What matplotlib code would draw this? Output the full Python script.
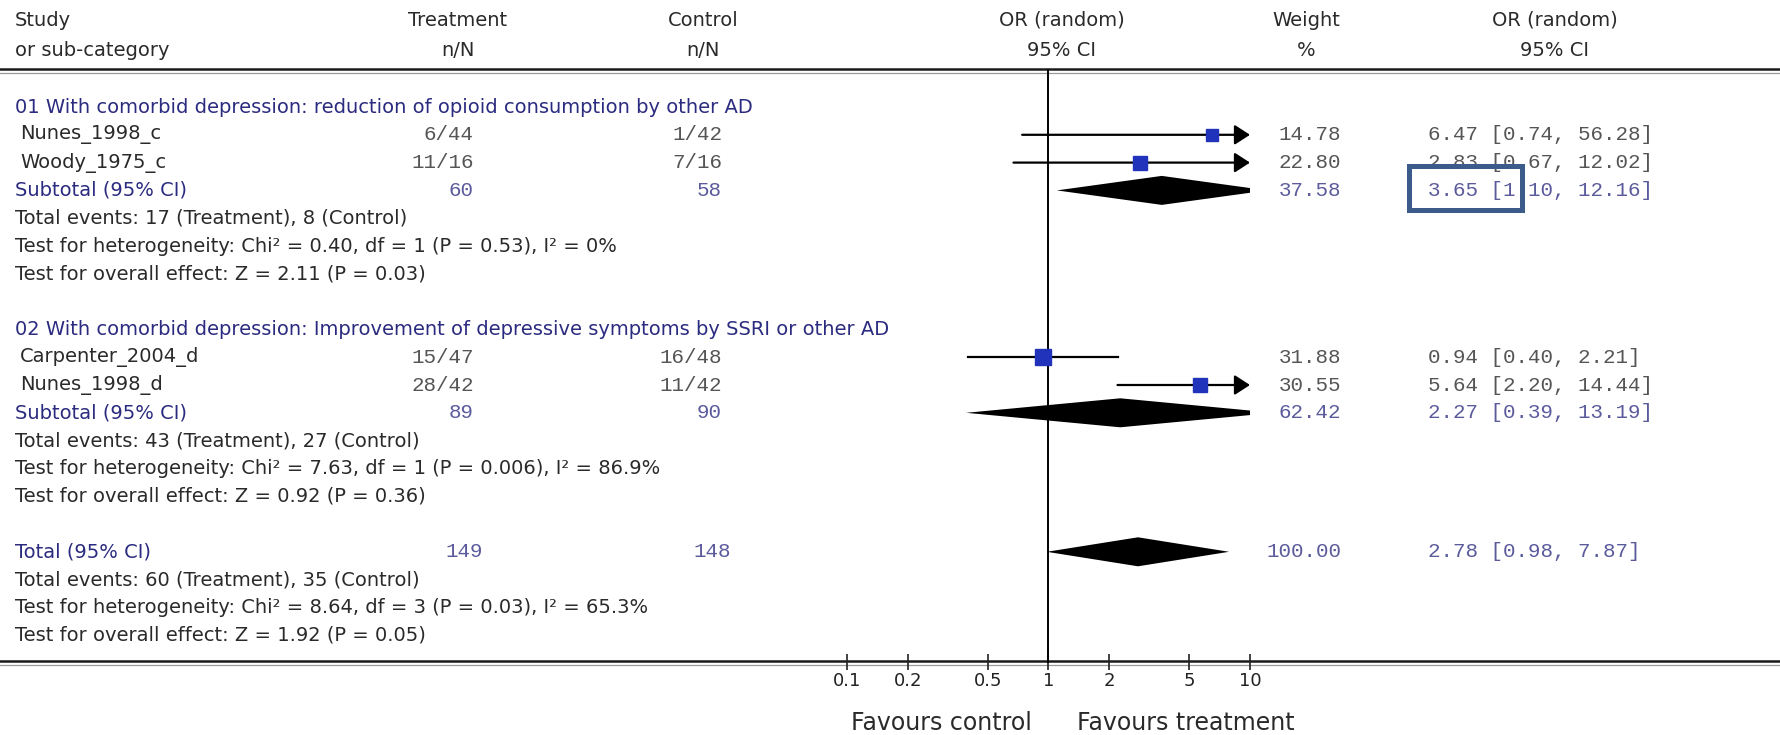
import matplotlib
matplotlib.use('Agg')
import matplotlib.pyplot as plt
from matplotlib.patches import Rectangle
from matplotlib.ticker import NullLocator

# ---- data ----
group_titles = ['01 With comorbid depression: reduction of opioid consumption by other AD',
                '02 With comorbid depression: Improvement of depressive symptoms by SSRI or other AD']
studies = ['Nunes_1998_c', 'Woody_1975_c', 'Carpenter_2004_d', 'Nunes_1998_d']
study_group = [0, 0, 1, 1]
treat_nN = ['6/44', '11/16', '15/47', '28/42']
ctrl_nN = ['1/42', '7/16', '16/48', '11/42']
weights = [14.78, 22.80, 31.88, 30.55]
or_est = [6.47, 2.83, 0.94, 5.64]
or_lo = [0.74, 0.67, 0.40, 2.20]
or_hi = [56.28, 12.02, 2.21, 14.44]

sub_treat_N = [60, 89]
sub_ctrl_N = [58, 90]
sub_weight = [37.58, 62.42]
sub_est = [3.65, 2.27]
sub_lo = [1.10, 0.39]
sub_hi = [12.16, 13.19]
sub_stats = [['Total events: 17 (Treatment), 8 (Control)',
              'Test for heterogeneity: Chi\u00b2 = 0.40, df = 1 (P = 0.53), I\u00b2 = 0%',
              'Test for overall effect: Z = 2.11 (P = 0.03)'],
             ['Total events: 43 (Treatment), 27 (Control)',
              'Test for heterogeneity: Chi\u00b2 = 7.63, df = 1 (P = 0.006), I\u00b2 = 86.9%',
              'Test for overall effect: Z = 0.92 (P = 0.36)']]

tot_treat_N = 149
tot_ctrl_N = 148
tot_weight = 100.00
tot_est, tot_lo, tot_hi = 2.78, 0.98, 7.87
tot_stats = ['Total events: 60 (Treatment), 35 (Control)',
             'Test for heterogeneity: Chi\u00b2 = 8.64, df = 3 (P = 0.03), I\u00b2 = 65.3%',
             'Test for overall effect: Z = 1.92 (P = 0.05)']

ticks = [0.1, 0.2, 0.5, 1, 2, 5, 10]
tick_labels = ['0.1', '0.2', '0.5', '1', '2', '5', '10']

# ---- look ----
W, H = 1781, 735
SANS = 'DejaVu Sans'
MONO = 'Liberation Mono'
navy = '#2b2b80'
dark = '#2a2a2a'
mono_grey = '#555555'
mono_blue = '#5b5b9c'
sq_blue = '#2233bb'
fs = 14
fs_mono = 15

def row_y(k):
    return 107 + 27.8 * k

fig = plt.figure(figsize=(W / 100, H / 100), dpi=100)
ax = fig.add_axes([0, 0, 1, 1])
ax.set_xlim(0, W)
ax.set_ylim(H, 0)
ax.axis('off')

# forest panel, log axis 0.1 .. 10
fx0, fx1 = 847, 1250
fa = fig.add_axes([fx0 / W, 0, (fx1 - fx0) / W, 1])
fa.set_xscale('log')
fa.set_xlim(0.1, 10)
fa.set_ylim(H, 0)
fa.patch.set_alpha(0)
fa.spines['bottom'].set_position(('data', 662))
for s in fa.spines.values():
    s.set_visible(False)
fa.set_yticks([])
fa.set_xticks(ticks)
fa.set_xticklabels(tick_labels)
fa.xaxis.set_minor_locator(NullLocator())
fa.tick_params(axis='x', direction='inout', length=11, width=1.2, pad=2,
               labelsize=13, colors='#222222')

# headers
hy1, hy2 = 20, 50
ax.text(15, hy1, 'Study', fontsize=fs, family=SANS, color=dark, va='center')
ax.text(15, hy2, 'or sub-category', fontsize=fs, family=SANS, color=dark, va='center')
for xc, t1, t2 in [(458, 'Treatment', 'n/N'), (703, 'Control', 'n/N'),
                   (1062, 'OR (random)', '95% CI'), (1306, 'Weight', '%'),
                   (1555, 'OR (random)', '95% CI')]:
    ax.text(xc, hy1, t1, fontsize=fs, family=SANS, color=dark, ha='center', va='center')
    ax.text(xc, hy2, t2, fontsize=fs, family=SANS, color=dark, ha='center', va='center')

# double rules
for yy in (69, 661):
    ax.plot([0, W], [yy, yy], color='#1a1a1a', lw=1.8)
    ax.plot([0, W], [yy + 3.5, yy + 3.5], color='#9a9a9a', lw=0.9)

# line of no effect
fa.plot([1, 1], [70, 662], color='k', lw=1.4)


def ci_text(e, lo, hi):
    return '%.2f [%.2f, %.2f]' % (e, lo, hi)


def diamond(e, lo, hi, y):
    fa.fill([lo, e, hi, e], [y, y - 14.5, y, y + 14.5], color='k', lw=0)


row = 0
for g in range(len(group_titles)):
    ax.text(15, row_y(row), group_titles[g], fontsize=fs, family=SANS, color=navy, va='center')
    row += 1
    for i in range(len(studies)):
        if study_group[i] != g:
            continue
        y = row_y(row)
        ax.text(20, y, studies[i], fontsize=fs, family=SANS, color=dark, va='center')
        ax.text(474, y, treat_nN[i], fontsize=fs_mono, family=MONO, color=mono_grey, ha='right', va='center')
        ax.text(722, y, ctrl_nN[i], fontsize=fs_mono, family=MONO, color=mono_grey, ha='right', va='center')
        ax.text(1341, y, '%.2f' % weights[i], fontsize=fs_mono, family=MONO, color=mono_grey, ha='right', va='center')
        ax.text(1428, y, ci_text(or_est[i], or_lo[i], or_hi[i]), fontsize=fs_mono, family=MONO,
                color=mono_grey, va='center')
        if or_hi[i] > 10:
            fa.annotate('', xy=(10, y), xytext=(or_lo[i], y), annotation_clip=False,
                        arrowprops=dict(arrowstyle='-|>,head_length=0.85,head_width=0.55',
                                        mutation_scale=11, lw=1.6, color='k',
                                        shrinkA=0, shrinkB=0))
        else:
            fa.plot([or_lo[i], or_hi[i]], [y, y], color='k', lw=1.6)
        fa.plot(or_est[i], y, marker='s', ms=(8 + 0.22 * weights[i]) * 0.72,
                color=sq_blue, mec=sq_blue, zorder=5)
        row += 1
    y = row_y(row)
    ax.text(15, y, 'Subtotal (95% CI)', fontsize=fs, family=SANS, color=navy, va='center')
    ax.text(474, y, str(sub_treat_N[g]), fontsize=fs_mono, family=MONO, color=mono_blue, ha='right', va='center')
    ax.text(722, y, str(sub_ctrl_N[g]), fontsize=fs_mono, family=MONO, color=mono_blue, ha='right', va='center')
    ax.text(1341, y, '%.2f' % sub_weight[g], fontsize=fs_mono, family=MONO, color=mono_blue, ha='right', va='center')
    ax.text(1428, y, ci_text(sub_est[g], sub_lo[g], sub_hi[g]), fontsize=fs_mono, family=MONO,
            color=mono_blue, va='center')
    diamond(sub_est[g], sub_lo[g], sub_hi[g], y)
    row += 1
    for line in sub_stats[g]:
        ax.text(15, row_y(row), line, fontsize=fs, family=SANS, color=dark, va='center')
        row += 1
    row += 1

# overall
y = row_y(row)
ax.text(15, y, 'Total (95% CI)', fontsize=fs, family=SANS, color=navy, va='center')
ax.text(483, y, str(tot_treat_N), fontsize=fs_mono, family=MONO, color=mono_blue, ha='right', va='center')
ax.text(731, y, str(tot_ctrl_N), fontsize=fs_mono, family=MONO, color=mono_blue, ha='right', va='center')
ax.text(1341, y, '%.2f' % tot_weight, fontsize=fs_mono, family=MONO, color=mono_blue, ha='right', va='center')
ax.text(1428, y, ci_text(tot_est, tot_lo, tot_hi), fontsize=fs_mono, family=MONO,
        color=mono_blue, va='center')
diamond(tot_est, tot_lo, tot_hi, y)
row += 1
for line in tot_stats:
    ax.text(15, row_y(row), line, fontsize=fs, family=SANS, color=dark, va='center')
    row += 1

# favours labels
ax.text(1032, 723, 'Favours control', fontsize=17, family=SANS, color=dark, ha='right', va='center')
ax.text(1077, 723, 'Favours treatment', fontsize=17, family=SANS, color=dark, ha='left', va='center')

# highlight box
ax.add_patch(Rectangle((1409, 166), 113, 44, fill=False, ec='#3b5b8a', lw=3.6, zorder=10))

fig.savefig('out.png', dpi=100)
